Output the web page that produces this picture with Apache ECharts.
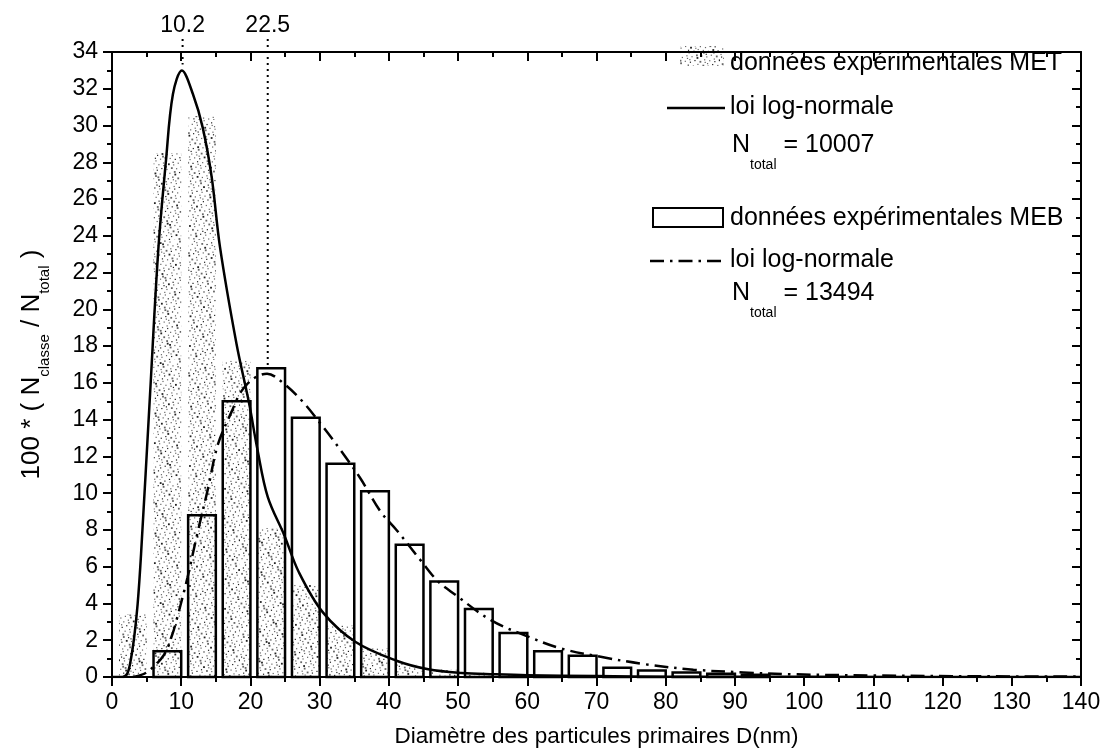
<!DOCTYPE html>
<html>
<head>
<meta charset="utf-8">
<title>Distribution des diamètres de particules primaires</title>
<script src="https://cdn.jsdelivr.net/npm/echarts@6.0.0/dist/echarts.min.js"></script>
<style>
  html, body { margin: 0; padding: 0; background: #fff; }
  #chart { width: 1114px; height: 753px; }
</style>
</head>
<body>
<div id="chart"></div>
<script>
// histogramme MET (pointillé) : début de classe (nm) et 100*Nclasse/Ntotal
const metBinStart = [0, 5, 10, 15, 20, 25, 30, 35, 40, 45, 50, 55];
const metValue = [3.4, 28.5, 30.5, 17.2, 8.1, 5.0, 2.8, 1.55, 0.7, 0.4, 0.25, 0.15];

// histogramme MEB (barres vides)
const mebBinStart = [5, 10, 15, 20, 25, 30, 35, 40, 45, 50, 55, 60, 65, 70, 75, 80, 85, 90];
const mebValue = [1.4, 8.8, 15.0, 16.8, 14.1, 11.6, 10.1, 7.2, 5.2, 3.7, 2.4, 1.4, 1.15, 0.5, 0.35, 0.25, 0.18, 0.12];

// loi log-normale MET (trait plein)
const metFitX = [0, 1.5, 2.15, 2.6, 3.2, 3.7, 4.2, 5.5, 6.7, 7.8, 8.8, 10.1, 11.7, 13.1, 14.4, 15.6,
  18.0, 19.8, 21.0, 22.5, 24.9, 27.0, 30.5, 35.2, 41.0, 45.7, 50.5, 55.3, 60, 70, 80, 100, 140];
const metFitY = [0, 0, 0.15, 0.7, 2.15, 3.95, 6.7, 15.4, 23.3, 28.1, 31.7, 33.0, 31.7, 29.9, 27.2, 23.4,
  18.1, 14.9, 12.4, 9.8, 7.7, 5.7, 3.5, 1.9, 0.9, 0.42, 0.22, 0.15, 0.1, 0.05, 0.02, 0.01, 0];

// loi log-normale MEB (trait mixte)
const mebFitX = [3, 5.0, 7.5, 8.7, 9.4, 10.9, 12.3, 13.9, 15.3, 17.3, 18.7, 20.5, 22.4, 24.7, 27.5, 30.3,
  33.1, 35.9, 38.8, 41.1, 44.8, 47.1, 49.5, 54.8, 60.1, 64.9, 70.6, 76.9, 84.0, 91.2, 98.3, 110, 125, 140];
const mebFitY = [0, 0.25, 1.2, 2.3, 3.2, 5.4, 7.75, 10.3, 12.65, 14.45, 15.55, 16.25, 16.5, 16.0, 15.0, 13.7,
  12.3, 10.8, 9.0, 8.0, 6.25, 5.2, 4.5, 3.08, 2.2, 1.55, 1.1, 0.7, 0.4, 0.25, 0.15, 0.08, 0.04, 0.02];

// modes des deux lois
const modeX = [10.2, 22.5];
const modeY = [33.0, 16.5];

const nTotalMET = 10007;
const nTotalMEB = 13494;

const FONT = '"Liberation Sans", Arial, sans-serif';
const binWidth = 5;
const barGap = 1;

// texture pointillée (suite quasi-aléatoire R2, déterministe)
const stipple = document.createElement('canvas');
stipple.width = 120;
stipple.height = 120;
(function () {
  const ctx = stipple.getContext('2d');
  const a1 = 0.7548776662, a2 = 0.5698402910;
  for (let i = 1; i <= 900; i++) {
    const x = ((i * a1) % 1) * 120;
    const y = ((i * a2) % 1) * 120;
    ctx.fillStyle = i % 3 === 0 ? '#222' : '#666';
    const s = i % 4 === 0 ? 1.8 : 1.2;
    ctx.fillRect(x, y, s, s);
  }
})();
const stippleFill = { image: stipple, repeat: 'repeat' };

function barRenderer(style) {
  return function (params, api) {
    const lo = api.value(0);
    const v = api.value(1);
    const p0 = api.coord([lo + barGap, v]);
    const p1 = api.coord([lo + binWidth, 0]);
    return {
      type: 'rect',
      shape: { x: p0[0], y: p0[1], width: p1[0] - p0[0], height: p1[1] - p0[1] },
      style: style
    };
  };
}

const chart = echarts.init(document.getElementById('chart'));

const axisCommon = {
  type: 'value',
  axisLine: { show: true, onZero: false, lineStyle: { color: '#000', width: 2 } },
  axisTick: { show: true, length: 9, lineStyle: { color: '#000', width: 2 } },
  minorTick: { show: true, splitNumber: 2, length: 5, lineStyle: { color: '#000', width: 2 } },
  splitLine: { show: false },
  minorSplitLine: { show: false }
};

// indice "total" sous le N
const subRich = { s: { font: '14px ' + FONT, fill: '#000', verticalAlign: 'bottom', lineHeight: 16 } };

const option = {
  animation: false,
  backgroundColor: '#fff',
  grid: { left: 112, right: 33, top: 52, bottom: 75 },
  xAxis: [
    Object.assign({}, axisCommon, {
      position: 'bottom', min: 0, max: 140, interval: 10,
      axisTick: Object.assign({}, axisCommon.axisTick, { inside: false }),
      axisLabel: { color: '#000', fontSize: 23, fontFamily: FONT, margin: 14 },
      name: 'Diamètre des particules primaires D(nm)',
      nameLocation: 'middle', nameGap: 48,
      nameTextStyle: { color: '#000', fontSize: 22.5, fontFamily: FONT }
    }),
    Object.assign({}, axisCommon, {
      position: 'top', min: 0, max: 140, interval: 10,
      axisTick: Object.assign({}, axisCommon.axisTick, { inside: true }),
      axisLabel: { show: false }
    })
  ],
  yAxis: [
    Object.assign({}, axisCommon, {
      position: 'left', min: 0, max: 34, interval: 2,
      axisTick: Object.assign({}, axisCommon.axisTick, { inside: false }),
      axisLabel: { color: '#000', fontSize: 23, fontFamily: FONT, margin: 14 },
      name: '100 * ( N{s|classe} / N{s|total} )',
      nameLocation: 'middle', nameGap: 60,
      nameTextStyle: {
        color: '#000', fontSize: 26, fontFamily: FONT, lineHeight: 40,
        rich: { s: { fontSize: 15, fontFamily: FONT, color: '#000', verticalAlign: 'bottom', lineHeight: 17 } }
      }
    }),
    Object.assign({}, axisCommon, {
      position: 'right', min: 0, max: 34, interval: 2,
      axisTick: Object.assign({}, axisCommon.axisTick, { inside: true }),
      axisLabel: { show: false }
    })
  ],
  series: [
    {
      name: 'MET',
      type: 'custom',
      data: metBinStart.map((s, i) => [s, metValue[i]]),
      encode: { x: 0, y: 1 },
      renderItem: barRenderer({ fill: stippleFill, stroke: null }),
      z: 1
    },
    {
      name: 'MEB',
      type: 'custom',
      data: mebBinStart.map((s, i) => [s, mebValue[i]]),
      encode: { x: 0, y: 1 },
      renderItem: barRenderer({ fill: 'none', stroke: '#000', lineWidth: 2.5 }),
      z: 2
    },
    {
      name: 'log-normale MET',
      type: 'line',
      data: metFitX.map((x, i) => [x, metFitY[i]]),
      showSymbol: false,
      smooth: 0.35,
      lineStyle: { color: '#000', width: 2.5 },
      z: 3
    },
    {
      name: 'log-normale MEB',
      type: 'line',
      data: mebFitX.map((x, i) => [x, mebFitY[i]]),
      showSymbol: false,
      smooth: 0.35,
      lineStyle: { color: '#000', width: 2.5, type: [14, 6, 2.5, 6] },
      z: 3
    },
    {
      name: 'modes',
      type: 'custom',
      data: modeX.map((x, i) => [x, modeY[i]]),
      encode: { x: 0, y: 1 },
      clip: false,
      renderItem: function (params, api) {
        const x = api.value(0);
        const p = api.coord([x, api.value(1)]);
        const top = api.coord([x, 34])[1];
        return {
          type: 'group',
          children: [
            {
              type: 'line',
              shape: { x1: p[0], y1: top - 13, x2: p[0], y2: p[1] - 6 },
              style: { stroke: '#000', lineWidth: 2, lineDash: [2, 4] }
            },
            {
              type: 'text',
              x: p[0], y: top - 15,
              style: { text: String(x), font: '23px ' + FONT, fill: '#000', align: 'center', verticalAlign: 'bottom' }
            }
          ]
        };
      },
      z: 4
    }
  ],
  graphic: [
    { type: 'rect', shape: { x: 680, y: 46, width: 44, height: 20 }, style: { fill: stippleFill } },
    { type: 'text', x: 730, y: 63, style: { text: 'données expérimentales MET', font: '25px ' + FONT, fill: '#000', verticalAlign: 'middle' } },
    { type: 'line', shape: { x1: 667, y1: 108, x2: 725, y2: 108 }, style: { stroke: '#000', lineWidth: 2.5 } },
    { type: 'text', x: 730, y: 107, style: { text: 'loi log-normale', font: '25px ' + FONT, fill: '#000', verticalAlign: 'middle' } },
    {
      type: 'text', x: 732, y: 145,
      style: { text: 'N{s|total} = ' + nTotalMET, font: '25px ' + FONT, fill: '#000', verticalAlign: 'middle', lineHeight: 54, rich: subRich }
    },
    { type: 'rect', shape: { x: 653, y: 208, width: 70, height: 19 }, style: { fill: 'none', stroke: '#000', lineWidth: 2 } },
    { type: 'text', x: 730, y: 218, style: { text: 'données expérimentales MEB', font: '25px ' + FONT, fill: '#000', verticalAlign: 'middle' } },
    { type: 'line', shape: { x1: 650, y1: 261, x2: 724, y2: 261 }, style: { stroke: '#000', lineWidth: 2.5, lineDash: [14, 6, 2.5, 6] } },
    { type: 'text', x: 730, y: 260, style: { text: 'loi log-normale', font: '25px ' + FONT, fill: '#000', verticalAlign: 'middle' } },
    {
      type: 'text', x: 732, y: 293,
      style: { text: 'N{s|total} = ' + nTotalMEB, font: '25px ' + FONT, fill: '#000', verticalAlign: 'middle', lineHeight: 54, rich: subRich }
    }
  ]
};

chart.setOption(option);
window.addEventListener('resize', () => chart.resize());
</script>
</body>
</html>
